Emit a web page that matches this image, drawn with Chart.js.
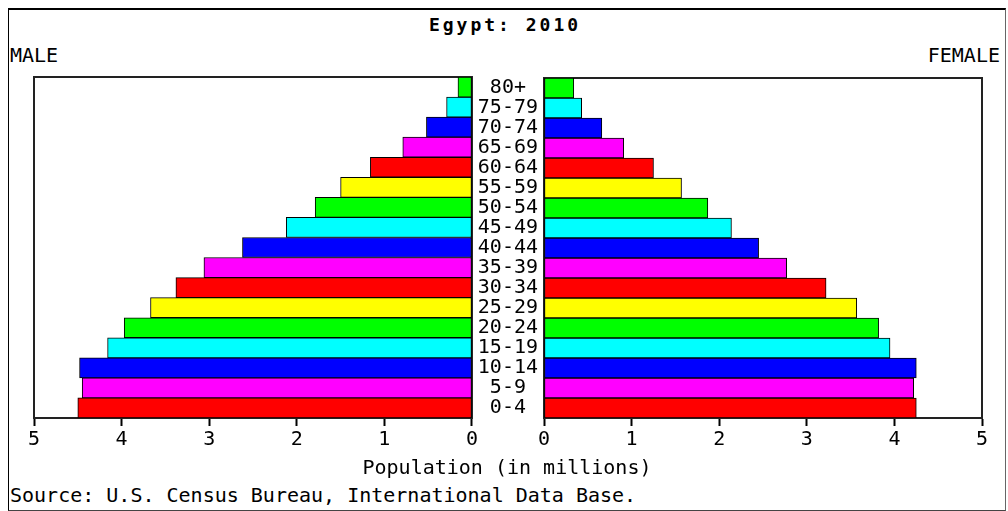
<!DOCTYPE html>
<html>
<head>
<meta charset="utf-8">
<script src="https://cdn.jsdelivr.net/npm/chart.js@4/dist/chart.umd.min.js"></script>
<style>
  body { margin: 0; width: 1008px; height: 511px; background: #fff; position: relative; overflow: hidden;
         font-family: "DejaVu Sans Mono", monospace; color: #000; }
  .frame { position: absolute; left: 8px; top: 8px; width: 996px; height: 500px;
           border-top: 2px solid #000; border-left: 1px solid #000; border-right: 1px solid #666; border-bottom: 1px solid #444; }
  .txt { position: absolute; font-size: 20px; white-space: nowrap; }
  #title { left: 0; width: 1010px; text-align: center; top: 14px; font-weight: bold; font-size: 18px; letter-spacing: 3px; }
  #male { left: 10px; top: 43px; }
  #female { right: 8px; top: 43px; }
  #xtitle { left: 0; width: 1014px; text-align: center; top: 455px; }
  #source { left: 10px; top: 483px; }
  canvas { position: absolute; }
  #maleChart { left: 0; top: 60px; }
  #femaleChart { left: 472px; top: 60px; }
</style>
</head>
<body>
<div class="frame"></div>
<div class="txt" id="title">Egypt: 2010</div>
<div class="txt" id="male">MALE</div>
<div class="txt" id="female">FEMALE</div>
<canvas id="maleChart" width="480" height="398"></canvas>
<canvas id="femaleChart" width="536" height="398"></canvas>
<div class="txt" id="xtitle">Population (in millions)</div>
<div class="txt" id="source">Source: U.S. Census Bureau, International Data Base.</div>
<script>
const ageGroups = ['0-4','5-9','10-14','15-19','20-24','25-29','30-34','35-39','40-44',
                   '45-49','50-54','55-59','60-64','65-69','70-74','75-79','80+'];
// millions
const maleValues = [4.50,4.45,4.48,4.16,3.97,3.67,3.38,3.06,2.62,2.12,1.79,1.50,1.16,0.79,0.52,0.29,0.16];
const femaleValues = [4.25,4.22,4.25,3.95,3.82,3.57,3.22,2.77,2.45,2.14,1.87,1.57,1.25,0.91,0.66,0.43,0.34];
const palette = ['#ff0000','#ff00ff','#0000ff','#00ffff','#00ff00','#ffff00'];
const xMin = 0, xMax = 5;

const barColors = ageGroups.map((a, i) => palette[i % palette.length]);
const tickFont = { family: 'DejaVu Sans Mono', size: 20 };

// box around the plot area
const framePlugin = {
  id: 'frame',
  beforeDatasetsDraw(chart) {
    const a = chart.chartArea;
    const ctx = chart.ctx;
    ctx.save();
    ctx.strokeStyle = '#222';
    ctx.lineWidth = 2;
    ctx.strokeRect(a.left, a.top, a.right - a.left, a.bottom - a.top);
    ctx.restore();
  }
};

function makeXAxis(reverse) {
  return {
    type: 'linear',
    min: xMin,
    max: xMax,
    reverse: reverse,
    ticks: { stepSize: 1, color: '#000', font: tickFont, padding: 2 },
    grid: { drawOnChartArea: false, tickLength: 8, tickColor: '#000', tickWidth: 2 },
    border: { color: '#000', width: 2 },
    afterFit(scale) { scale.height = 40; }
  };
}

function makeDataset(values) {
  return {
    data: values,
    backgroundColor: barColors,
    borderColor: '#000',
    borderWidth: 1,
    borderSkipped: false,
    barPercentage: 1,
    categoryPercentage: 1
  };
}

new Chart(document.getElementById('maleChart'), {
  type: 'bar',
  data: { labels: ageGroups, datasets: [makeDataset(maleValues)] },
  options: {
    indexAxis: 'y',
    responsive: false,
    animation: false,
    layout: { padding: { left: 34, right: 8, top: 17, bottom: 0 } },
    plugins: { legend: { display: false }, tooltip: { enabled: false } },
    scales: {
      x: makeXAxis(true),
      y: { reverse: true, display: false }
    }
  },
  plugins: [framePlugin]
});

new Chart(document.getElementById('femaleChart'), {
  type: 'bar',
  data: { labels: ageGroups, datasets: [makeDataset(femaleValues)] },
  options: {
    indexAxis: 'y',
    responsive: false,
    animation: false,
    layout: { padding: { left: 0, right: 26, top: 17, bottom: 0 } },
    plugins: { legend: { display: false }, tooltip: { enabled: false } },
    scales: {
      x: makeXAxis(false),
      y: {
        reverse: true,
        position: 'left',
        ticks: { color: '#000', font: tickFont, crossAlign: 'center', padding: 6, autoSkip: false },
        grid: { display: false, tickLength: 0 },
        border: { display: false },
        afterFit(scale) { scale.width = 72; }
      }
    }
  },
  plugins: [framePlugin]
});
</script>
</body>
</html>
